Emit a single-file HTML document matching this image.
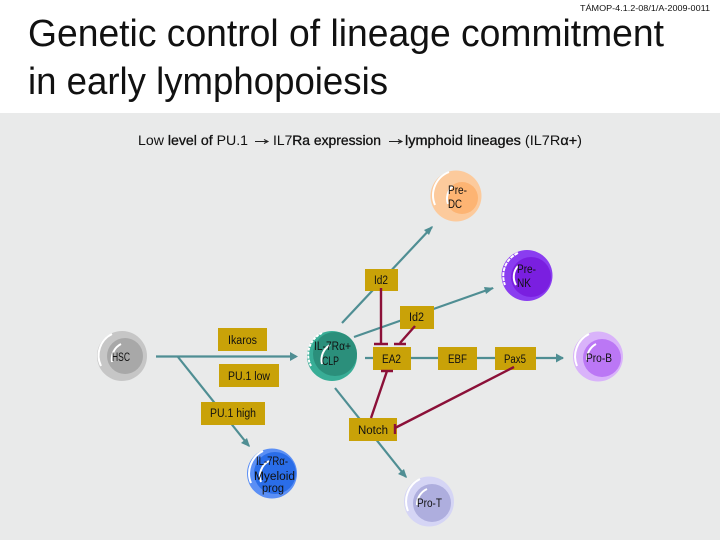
<!DOCTYPE html>
<html><head><meta charset="utf-8"><style>
html,body{margin:0;padding:0;background:#fff}
svg{display:block}
text{font-family:"Liberation Sans",sans-serif;fill:#111}
.l{font-size:11.5px}
.t{stroke:#4f8e93;stroke-width:2.2;fill:none}
.r{stroke:#8b1038;stroke-width:2.4;fill:none}
.b{fill:#c9a208}
.w{stroke:#fff;fill:none;stroke-width:2}
.h{stroke:#111;stroke-width:.3}
</style></head><body>
<svg width="720" height="540" viewBox="0 0 720 540" xmlns="http://www.w3.org/2000/svg">
<rect width="720" height="540" fill="#fff"/>
<rect y="113" width="720" height="427" fill="#e9eaea"/>
<text x="580" y="11" font-size="8" textLength="130" lengthAdjust="spacingAndGlyphs">TÁMOP-4.1.2-08/1/A-2009-0011</text>
<text x="28" y="46" font-size="38" textLength="636" lengthAdjust="spacingAndGlyphs">Genetic control of lineage commitment</text>
<text x="28" y="94" font-size="38" textLength="360" lengthAdjust="spacingAndGlyphs">in early lymphopoiesis</text>

<text x="138" y="145" font-size="14" textLength="110" lengthAdjust="spacingAndGlyphs">Low <tspan class="h">level of</tspan> PU.1</text>
<path d="M255 141.500H267M264 139.500L268 141.500L264 143.500M389 141.500H401M398 139.500L402 141.500L398 143.500" stroke="#222" fill="none"/>
<text x="273" y="145" font-size="14" textLength="108" lengthAdjust="spacingAndGlyphs">IL7<tspan class="h">Ra expression</tspan></text>
<text x="405" y="145" font-size="14" textLength="177" lengthAdjust="spacingAndGlyphs"><tspan class="h">lymphoid lineages</tspan> (IL7R<tspan class="h">α+</tspan>)</text>

<!-- teal connectors -->
<g class="t">
<path d="M156 356.500H296"/>
<path d="M178 357L249 446"/>
<path d="M342 323L432 227"/>
<path d="M354 337L493 288"/>
<path d="M365 358H563"/>
<path d="M335 388L406 477"/>
</g>
<g fill="#4f8e93">
<path d="M298 356.500L290 352V361Z"/>
<path d="M250 447L241 443L247 438Z"/>
<path d="M433 226L429 235L424 230Z"/>
<path d="M494 288L486 294L484 287Z"/>
<path d="M564 358L556 353.500V362.500Z"/>
<path d="M407 478L398 474L404 469Z"/>
</g>

<!-- boxes -->
<g class="b">
<rect x="218" y="328" width="49" height="23"/>
<rect x="219" y="364" width="60" height="23"/>
<rect x="201" y="402" width="64" height="23"/>
<rect x="365" y="269" width="33" height="22"/>
<rect x="400" y="306" width="34" height="23"/>
<rect x="373" y="347" width="38" height="23"/>
<rect x="438" y="347" width="39" height="23"/>
<rect x="495" y="347" width="41" height="23"/>
<rect x="349" y="418" width="48" height="23"/>
</g>

<!-- red inhibitors -->
<g class="r">
<path d="M381 288V344M374 344H388"/>
<path d="M415 326L400 343M394 344H406"/>
<path d="M371 418L387 371M381 371H393"/>
<path d="M514 367L395 428M395 424V434"/>
</g>

<!-- circles -->
<circle cx="122" cy="356" r="25" fill="#c6c6c6"/><circle cx="125" cy="356" r="18" fill="#a8a8a8"/>
<path class="w" d="M112 334A24 24 0 0 0 101 366M121 344A17 17 0 0 0 112 362"/>

<circle cx="332" cy="356" r="25" fill="#38ad96"/><circle cx="335" cy="354" r="22" fill="#2b8f7b"/>
<path class="w" stroke-dasharray="3 1" d="M322 333A24 24 0 0 0 311 366"/><path class="w" d="M330 345A17 17 0 0 0 322 364"/>

<circle cx="456" cy="196" r="25.500" fill="#fcca9c"/><circle cx="462" cy="198" r="16" fill="#fdb473"/>
<path class="w" d="M449 172A25 25 0 0 0 435 205M453 186A16 16 0 0 0 448 204"/>

<circle cx="527" cy="275.500" r="25.500" fill="#8a3df0"/><circle cx="531" cy="277" r="20" fill="#7a1fe0"/>
<path class="w" stroke-dasharray="4 1" d="M518 253A25 25 0 0 0 505 285"/><path class="w" d="M518 266A16 16 0 0 0 516 285"/>

<circle cx="598" cy="356.500" r="25" fill="#d9b3fa"/><circle cx="602" cy="358" r="19" fill="#bb77f5"/>
<path class="w" d="M589 334A25 25 0 0 0 577 366M596 344A17 17 0 0 0 587 360"/>

<circle cx="429" cy="501.500" r="25" fill="#d5d5f5"/><circle cx="432" cy="503" r="19" fill="#aeaede"/>
<path class="w" d="M420 479A25 25 0 0 0 408 511M427 489A17 17 0 0 0 417 505"/>

<circle cx="272" cy="473.500" r="25" fill="#5b8ff5"/><circle cx="275" cy="473" r="21" fill="#2a6de8"/>
<path class="w" d="M263 451A25 25 0 0 0 251 483M269 461A17 17 0 0 0 261 482"/>

<!-- labels -->
<g class="l">
<text x="112" y="361" textLength="18" lengthAdjust="spacingAndGlyphs">HSC</text>
<text x="228" y="344" textLength="29" lengthAdjust="spacingAndGlyphs">Ikaros</text>
<text x="228" y="380" textLength="42" lengthAdjust="spacingAndGlyphs">PU.1 low</text>
<text x="210" y="417" textLength="46" lengthAdjust="spacingAndGlyphs">PU.1 high</text>
<text x="314" y="350" textLength="37" lengthAdjust="spacingAndGlyphs">IL-7Rα+</text>
<text x="322" y="365" textLength="17" lengthAdjust="spacingAndGlyphs">CLP</text>
<text x="448" y="194" textLength="19" lengthAdjust="spacingAndGlyphs">Pre-</text>
<text x="448" y="208" textLength="14" lengthAdjust="spacingAndGlyphs">DC</text>
<text x="517" y="273" textLength="19" lengthAdjust="spacingAndGlyphs">Pre-</text>
<text x="517" y="287" textLength="14" lengthAdjust="spacingAndGlyphs">NK</text>
<text x="374" y="284" textLength="14" lengthAdjust="spacingAndGlyphs">Id2</text>
<text x="409" y="321" textLength="15" lengthAdjust="spacingAndGlyphs">Id2</text>
<text x="382" y="363" textLength="19" lengthAdjust="spacingAndGlyphs">EA2</text>
<text x="448" y="363" textLength="19" lengthAdjust="spacingAndGlyphs">EBF</text>
<text x="504" y="363" textLength="22" lengthAdjust="spacingAndGlyphs">Pax5</text>
<text x="358" y="434" textLength="30" lengthAdjust="spacingAndGlyphs">Notch</text>
<text x="586" y="362" textLength="26" lengthAdjust="spacingAndGlyphs">Pro-B</text>
<text x="417" y="507" textLength="25" lengthAdjust="spacingAndGlyphs">Pro-T</text>
<text x="256" y="465" textLength="32" lengthAdjust="spacingAndGlyphs">IL-7Rα-</text>
<text x="254" y="480" textLength="41" lengthAdjust="spacingAndGlyphs">Myeloid</text>
<text x="262" y="492" textLength="22" lengthAdjust="spacingAndGlyphs">prog</text>
</g>
</svg>
</body></html>
